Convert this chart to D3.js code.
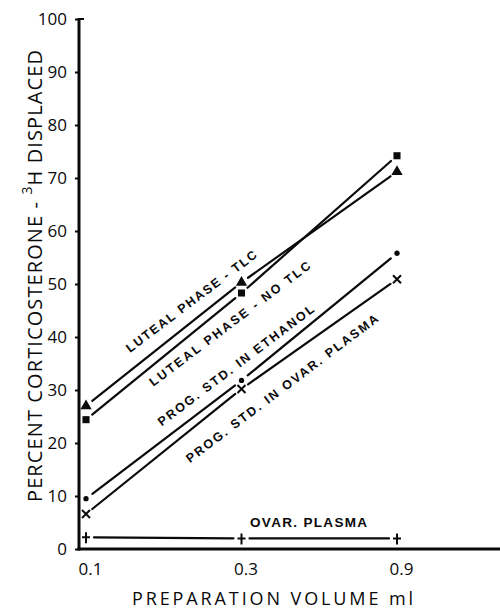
<!DOCTYPE html>
<html>
<head>
<meta charset="utf-8">
<script src="https://cdn.jsdelivr.net/npm/d3@7"></script>
<style>
  html, body { margin: 0; padding: 0; background: #fff; }
  svg { display: block; }
</style>
</head>
<body>
<svg id="chart" width="500" height="610"></svg>
<script>
// ---------- data ----------
const volumes = [0.1, 0.3, 0.9];
const xTickLabels = ["0.1", "0.3", "0.9"];
const yTicks = [0, 10, 20, 30, 40, 50, 60, 70, 80, 90, 100];

const lutealTLC      = [27, 50.3, 71.2];
const lutealNoTLC    = [24.4, 48.3, 74.2];
const progEthanol    = [9.5, 31.8, 55.8];
const progOvarPlasma = [6.6, 30.2, 50.9];
const ovarPlasma     = [2.2, 2.0, 2.0];

const seriesNames   = ["lutealTLC", "lutealNoTLC", "progEthanol", "progOvarPlasma", "ovarPlasma"];
const seriesMarkers = ["triangle", "square", "dot", "cross", "plus"];
const seriesValues  = [lutealTLC, lutealNoTLC, progEthanol, progOvarPlasma, ovarPlasma];

// annotation labels (anchor in data coordinates: volume, percent)
const labelTexts  = ["LUTEAL  PHASE  -  TLC", "LUTEAL  PHASE  -  NO  TLC", "PROG.  STD.  IN  ETHANOL", "PROG.  STD.  IN  OVAR.  PLASMA"];
const labelAnchorX = [0.1365, 0.1609, 0.1707, 0.2085];
const labelAnchorY = [37.0, 30.6, 23.1, 16.2];
const labelLengths = [160, 198, 192, 237];

// ---------- chart ----------
const svg = d3.select("#chart");
const axisLeftX = 79, axisRightX = 500;
const x = d3.scaleLog().domain([0.1, 0.9]).range([86, 397]);
const y = d3.scaleLinear().domain([0, 100]).range([549, 19]);
const ink = "#0a0a0a";
const axisFont = "'Open Sans', 'DejaVu Sans', sans-serif";
const labelFont = "'Liberation Sans', Arial, sans-serif";

// y axis
const yAxis = svg.append("g")
  .attr("transform", `translate(${axisLeftX},0)`)
  .call(d3.axisLeft(y).tickValues(yTicks).tickSize(4).tickPadding(8).tickFormat(d3.format("d")));
yAxis.select(".domain").remove();
yAxis.selectAll(".tick line").attr("stroke", ink).attr("stroke-width", 2);
yAxis.selectAll(".tick text")
  .attr("font-family", axisFont).attr("font-size", 17).attr("fill", ink);
yAxis.append("line")
  .attr("x1", 0).attr("x2", 0).attr("y1", y(100) - 1).attr("y2", y(0) + 1.5)
  .attr("stroke", ink).attr("stroke-width", 3);
yAxis.append("line")
  .attr("x1", 0).attr("x2", 5).attr("y1", y(100)).attr("y2", y(100))
  .attr("stroke", ink).attr("stroke-width", 2);

// x axis
const xAxis = svg.append("g")
  .attr("transform", `translate(0,${y(0)})`)
  .call(d3.axisBottom(x).tickValues(volumes).tickSize(0).tickPadding(14)
    .tickFormat((d, i) => xTickLabels[i]));
xAxis.select(".domain").remove();
xAxis.selectAll(".tick text")
  .attr("font-family", axisFont).attr("font-size", 17).attr("fill", ink)
  .attr("dx", 4);
xAxis.append("line")
  .attr("x1", axisLeftX - 1.5).attr("x2", axisRightX).attr("y1", 0).attr("y2", 0)
  .attr("stroke", ink).attr("stroke-width", 3);

// series lines with small gaps near markers
const gap = 8;
seriesValues.forEach((vals, si) => {
  const pts = volumes.map((v, i) => [x(v), y(vals[i])]);
  for (let i = 0; i < pts.length - 1; i++) {
    const [x1, y1] = pts[i], [x2, y2] = pts[i + 1];
    const len = Math.hypot(x2 - x1, y2 - y1);
    const ux = (x2 - x1) / len, uy = (y2 - y1) / len;
    svg.append("line")
      .attr("x1", x1 + ux * gap).attr("y1", y1 + uy * gap)
      .attr("x2", x2 - ux * gap).attr("y2", y2 - uy * gap)
      .attr("stroke", ink).attr("stroke-width", 2.2).attr("stroke-linecap", "round");
  }
});

// markers
const symbolPaths = {
  triangle: d3.symbol().type(d3.symbolTriangle).size(55)(),
  square: d3.symbol().type(d3.symbolSquare).size(50)(),
  dot: d3.symbol().type(d3.symbolCircle).size(22)()
};
seriesValues.forEach((vals, si) => {
  const type = seriesMarkers[si];
  volumes.forEach((v, i) => {
    const cx = x(v), cy = y(vals[i]);
    const g = svg.append("g").attr("transform", `translate(${cx},${cy})`);
    if (symbolPaths[type]) {
      g.append("path").attr("d", symbolPaths[type]).attr("fill", ink);
    } else if (type === "cross") {
      g.append("path").attr("d", "M-4,-4L4,4M-4,4L4,-4")
        .attr("stroke", ink).attr("stroke-width", 2).attr("fill", "none");
    } else if (type === "plus") {
      g.append("path").attr("d", "M-4,0L4,0M0,-5L0,6")
        .attr("stroke", ink).attr("stroke-width", 2).attr("fill", "none");
    }
  });
});

// rotated annotations
labelTexts.forEach((t, i) => {
  svg.append("text")
    .attr("transform", `translate(${x(labelAnchorX[i])},${y(labelAnchorY[i])}) rotate(-37)`)
    .attr("font-family", labelFont).attr("font-weight", "bold").attr("font-size", 12.5)
    .attr("fill", ink)
    .attr("textLength", labelLengths[i]).attr("lengthAdjust", "spacing")
    .text(t);
});

// OVAR. PLASMA label
svg.append("text")
  .attr("x", x(0.4817)).attr("y", y(4.15))
  .attr("text-anchor", "middle")
  .attr("font-family", labelFont).attr("font-weight", "bold").attr("font-size", 13.5)
  .attr("fill", ink)
  .attr("textLength", 117).attr("lengthAdjust", "spacing")
  .text("OVAR.  PLASMA");

// axis titles
const yTitle = svg.append("text")
  .attr("transform", `translate(42,276) rotate(-90)`)
  .attr("text-anchor", "middle")
  .attr("font-family", axisFont).attr("font-size", 20).attr("fill", ink)
  .attr("textLength", 452).attr("lengthAdjust", "spacing");
yTitle.append("tspan").text("PERCENT  CORTICOSTERONE  -  ");
yTitle.append("tspan").attr("baseline-shift", "70%").attr("font-size", 14).text("3");
yTitle.append("tspan").text("H  DISPLACED");

svg.append("text")
  .attr("x", 272.5).attr("y", 605)
  .attr("text-anchor", "middle")
  .attr("font-family", axisFont).attr("font-size", 18).attr("fill", ink)
  .attr("textLength", 281).attr("lengthAdjust", "spacing")
  .text("PREPARATION   VOLUME   ml");
</script>
</body>
</html>
